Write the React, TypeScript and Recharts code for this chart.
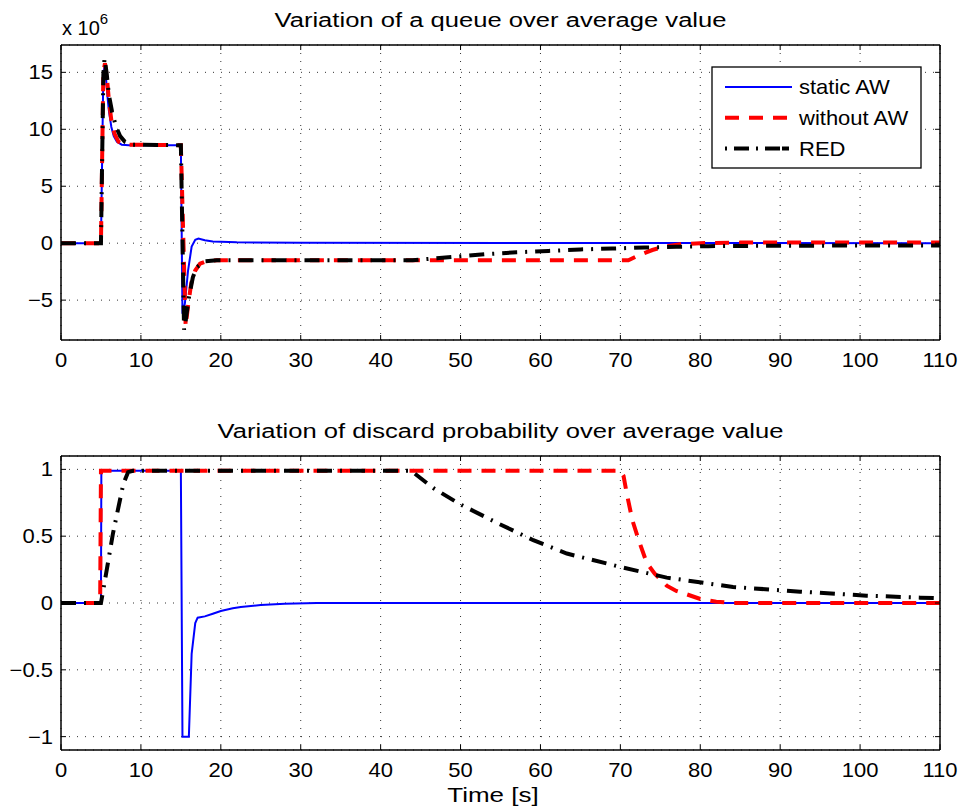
import React from "react";
import { LineChart, Line, XAxis, YAxis, CartesianGrid, Legend } from "recharts";

// ---------- data (queue values in units of 10^6) ----------
const queueStaticT = [0, 5.0, 5.3, 5.45, 5.6, 5.8, 6.0, 6.3, 6.6, 7.0, 7.6, 8.5, 15.0, 15.2, 15.5, 15.9, 16.35, 16.8, 17.2, 18, 19, 22, 30, 110];
const queueStaticV = [0, 0, 15.0, 15.5, 14.8, 13.0, 11.6, 10.2, 9.4, 8.9, 8.65, 8.6, 8.6, -6.2, -5.3, -2.4, -0.3, 0.3, 0.4, 0.25, 0.15, 0.08, 0.03, 0];

const queueNoAwT = [0, 5.0, 5.3, 5.5, 5.75, 6.0, 6.3, 6.7, 7.2, 8.0, 15.0, 15.6, 15.9, 16.3, 16.8, 17.4, 18.3, 19.5, 71, 72.5, 74, 75.5, 77.5, 80, 85, 110];
const queueNoAwV = [0, 0, 15.0, 15.8, 14.5, 12.5, 10.8, 9.6, 8.9, 8.65, 8.6, -7.3, -5.5, -3.5, -2.4, -1.8, -1.55, -1.5, -1.5, -1.0, -0.6, -0.3, -0.1, 0, 0.05, 0.05];

const queueRedT = [0, 5.0, 5.3, 5.45, 5.7, 6.0, 6.4, 6.9, 7.4, 8.0, 9.0, 15.0, 15.4, 15.6, 16.0, 16.5, 17.0, 18.0, 19.5, 44, 46.5, 50, 53, 57, 61, 65, 69, 73, 77, 81, 90, 110];
const queueRedV = [0, 0, 14.8, 16.2, 15.0, 13.0, 11.5, 10.2, 9.4, 8.9, 8.65, 8.6, -7.6, -6.8, -4.8, -3.0, -2.1, -1.6, -1.5, -1.5, -1.35, -1.15, -0.97, -0.8, -0.68, -0.55, -0.47, -0.38, -0.32, -0.26, -0.22, -0.2];

const probStaticT = [0, 5.0, 5.05, 15.0, 15.2, 16.0, 16.35, 16.8, 17.1, 18, 19, 20, 21.5, 22.5, 25, 28, 32, 110];
const probStaticV = [0, 0, 0.99, 0.99, -1, -1, -0.38, -0.15, -0.11, -0.1, -0.08, -0.06, -0.04, -0.03, -0.015, -0.005, 0, 0];

const probNoAwT = [0, 4.9, 5.0, 70.0, 70.4, 70.8, 71.5, 72.3, 73.3, 74.3, 75.8, 77, 78.3, 80, 82, 84, 110];
const probNoAwV = [0, 0, 0.99, 0.99, 0.95, 0.82, 0.62, 0.47, 0.3, 0.22, 0.13, 0.09, 0.065, 0.03, 0.01, 0, 0];

const probRedT = [0, 5.0, 5.5, 6.5, 7.2, 7.8, 8.4, 9.0, 43.8, 46.6, 49.9, 54.9, 59.1, 63.3, 70, 75.8, 84.1, 92.5, 100.8, 107.5, 110];
const probRedV = [0, 0, 0.17, 0.52, 0.72, 0.89, 0.98, 0.99, 0.99, 0.86, 0.74, 0.59, 0.47, 0.37, 0.27, 0.19, 0.12, 0.085, 0.055, 0.04, 0.035];

const xTicks = [0, 10, 20, 30, 40, 50, 60, 70, 80, 90, 100, 110];
const queueTicks = [-5, 0, 5, 10, 15];
const probTicks = [-1, -0.5, 0, 0.5, 1];

const seriesNames = ["static AW", "without AW", "RED"];
const titleTop = "Variation of a queue over average value";
const titleBottom = "Variation of discard probability over average value";
const xLabel = "Time [s]";

const zip = (t: number[], v: number[]) => t.map((x, i) => ({ t: x, v: v[i] }));

const FONT = "'Liberation Sans', Arial, Helvetica, sans-serif";
const COLORS = ["#0000ff", "#ff0000", "#000000"];
const WIDTHS = [2, 4, 4];
const DASHES = [undefined, "14 10", "15 8 2 8"];

const fmt = (v: number) => (v < 0 ? "\u2212" + String(-v) : String(v));

const XTick = (props: any) => {
  const { x, y, payload } = props;
  return (
    <g transform={`translate(${x},${y}) scale(1.1,1)`}>
      <text x={0} y={0} dy="0.71em" textAnchor="middle" fontSize={20} fontFamily={FONT} fill="#000">
        {fmt(payload.value)}
      </text>
    </g>
  );
};

const YTick = (props: any) => {
  const { x, y, payload } = props;
  return (
    <g transform={`translate(${x},${y}) scale(1.1,1)`}>
      <text x={0} y={0} dy="0.355em" textAnchor="end" fontSize={20} fontFamily={FONT} fill="#000">
        {fmt(payload.value)}
      </text>
    </g>
  );
};

const Empty = () => <g />;

const LegendBox = () => (
  <svg width={211} height={103} style={{ display: "block" }}>
    <rect x={1} y={1} width={209} height={101} fill="#fff" stroke="#000" strokeWidth={1.3} />
    {seriesNames.map((n, i) => {
      const cy = 21 + i * 30.8;
      return (
        <g key={n}>
          <line x1={14} x2={81} y1={cy} y2={cy} stroke={COLORS[i]} strokeWidth={WIDTHS[i]} strokeDasharray={i === 2 ? "2 7 15 7 2 7 15" : DASHES[i]} />
          <g transform={`translate(88,${cy}) scale(1.1,1)`}>
            <text x={0} y={0} dy="0.355em" fontSize={20} fontFamily={FONT} fill="#000">
              {n}
            </text>
          </g>
        </g>
      );
    })}
  </svg>
);

type Panel = {
  series: { t: number; v: number }[][];
  domain: [number, number];
  yTicks: number[];
  height: number;
  top: number;
  marginTop: number;
  marginBottom: number;
  legend?: boolean;
};

const PanelChart = ({ series, domain, yTicks, height, top, marginTop, marginBottom, legend }: Panel) => (
  <div style={{ position: "absolute", left: 0, top, width: 960, height }}>
    <LineChart width={960} height={height} margin={{ top: marginTop, right: 19, bottom: marginBottom, left: 11 }}>
      <CartesianGrid stroke="#333" strokeDasharray="1 7" strokeWidth={1} />
      <XAxis
        dataKey="t"
        type="number"
        domain={[0, 110]}
        ticks={xTicks}
        allowDataOverflow
        height={30}
        tickSize={-5}
        tickMargin={18}
        tick={XTick}
        axisLine={{ stroke: "#000", strokeWidth: 1.5 }}
        tickLine={{ stroke: "#000" }}
      />
      <XAxis
        xAxisId="top"
        orientation="top"
        dataKey="t"
        type="number"
        domain={[0, 110]}
        ticks={xTicks}
        allowDataOverflow
        height={1}
        tickSize={-5}
        tick={Empty}
        axisLine={{ stroke: "#000", strokeWidth: 1.5 }}
        tickLine={{ stroke: "#000" }}
      />
      <YAxis
        type="number"
        domain={domain}
        ticks={yTicks}
        allowDataOverflow
        width={50}
        tickSize={-5}
        tickMargin={13}
        tick={YTick}
        axisLine={{ stroke: "#000", strokeWidth: 1.5 }}
        tickLine={{ stroke: "#000" }}
      />
      <YAxis
        yAxisId="right"
        orientation="right"
        type="number"
        domain={domain}
        ticks={yTicks}
        allowDataOverflow
        width={1}
        tickSize={-5}
        tick={Empty}
        axisLine={{ stroke: "#000", strokeWidth: 1.5 }}
        tickLine={{ stroke: "#000" }}
      />
      {series.map((d, i) => (
        <Line
          key={seriesNames[i]}
          name={seriesNames[i]}
          data={d}
          dataKey="v"
          type="linear"
          stroke={COLORS[i]}
          strokeWidth={WIDTHS[i]}
          strokeDasharray={DASHES[i]}
          dot={false}
          activeDot={false}
          isAnimationActive={false}
        />
      ))}
      {legend && (
        <Legend
          layout="horizontal"
          verticalAlign="middle"
          align="center"
          content={LegendBox}
          wrapperStyle={{ position: "absolute", left: 711, top: 66, width: 211, height: 103 }}
        />
      )}
    </LineChart>
  </div>
);

export default function App() {
  return (
    <div style={{ position: "absolute", left: 0, top: 0, width: 960, height: 807, background: "#fff" }}>
      <PanelChart
        series={[zip(queueStaticT, queueStaticV), zip(queueNoAwT, queueNoAwV), zip(queueRedT, queueRedV)]}
        domain={[-8.5, 17.4]}
        yTicks={queueTicks}
        height={400}
        top={0}
        marginTop={44}
        marginBottom={30}
        legend
      />
      <PanelChart
        series={[zip(probStaticT, probStaticV), zip(probNoAwT, probNoAwV), zip(probRedT, probRedV)]}
        domain={[-1.1, 1.1]}
        yTicks={probTicks}
        height={407}
        top={400}
        marginTop={55}
        marginBottom={27}
      />
      <svg width={960} height={807} style={{ position: "absolute", left: 0, top: 0, pointerEvents: "none" }}>
        <g transform="translate(500.5,27) scale(1.28,1)">
          <text x={0} y={0} textAnchor="middle" fontSize={20} fontFamily={FONT} fill="#000">{titleTop}</text>
        </g>
        <g transform="translate(500.5,438) scale(1.28,1)">
          <text x={0} y={0} textAnchor="middle" fontSize={20} fontFamily={FONT} fill="#000">{titleBottom}</text>
        </g>
        <g transform="translate(493,802) scale(1.3,1)">
          <text x={0} y={0} textAnchor="middle" fontSize={20} fontFamily={FONT} fill="#000">{xLabel}</text>
        </g>
        <text x={62} y={35} fontSize={20} fontFamily={FONT} fill="#000">
          x 10<tspan dy={-11} fontSize={15}>6</tspan>
        </text>
      </svg>
    </div>
  );
}
